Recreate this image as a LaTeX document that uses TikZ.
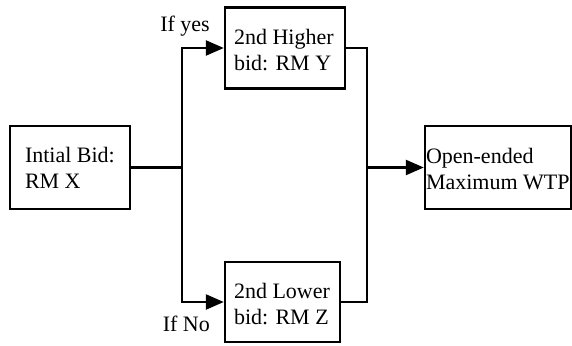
\documentclass[tikz,border=0pt]{standalone}
\usepackage{fontspec}
\setmainfont{Liberation Serif}
\usetikzlibrary{arrows.meta}
\begin{document}
\begin{tikzpicture}[x=1pt,y=-1pt,
  box/.style={draw=black,line width=2.4pt,inner sep=0pt},
  lbl/.style={inner sep=0pt,align=left,font=\fontsize{22}{26}\selectfont},
  conn/.style={line width=2.4pt},
  arr/.style={conn,-{Triangle[length=18pt,width=15pt]}}]
\useasboundingbox (0,0) rectangle (572,345);
\node[box,minimum width=120pt,minimum height=83pt] (b1) at (70,167.5) {};
\node[box,minimum width=120pt,minimum height=81pt] (b2) at (285,48) {};
\node[box,minimum width=115pt,minimum height=80pt] (b3) at (282.5,302) {};
\node[box,minimum width=146pt,minimum height=83pt] (b4) at (498,167.5) {};
\node[lbl,anchor=west] (t1) at ([xshift=16pt]b1.west) {Intial Bid:\\RM X};
\node[lbl,anchor=west] (t2) at ([xshift=10pt,yshift=-2pt]b2.west) {2nd Higher\\bid: RM Y};
\node[lbl,anchor=west] (t3) at ([xshift=10pt,yshift=-2pt]b3.west) {2nd Lower\\bid: RM Z};
\node[lbl,anchor=west] (t4) at ([xshift=2pt,yshift=-2pt]b4.west) {Open-ended\\Maximum WTP};
\node[lbl,anchor=base east] (yes) at (210,32) {If yes};
\node[lbl,anchor=base east] (no) at (210,331) {If No};
\coordinate (j1) at (182,167.5);
\coordinate (j2) at (367,167.5);
\draw[conn] (b1.east) -- (j1);
\draw[arr] (j1) |- (b2.west);
\draw[arr] (j1) |- (b3.west);
\draw[conn] (b2.east) -| (j2);
\draw[conn] (b3.east) -| (j2);
\draw[arr] (j2) -- (b4.west);
\end{tikzpicture}
\end{document}
